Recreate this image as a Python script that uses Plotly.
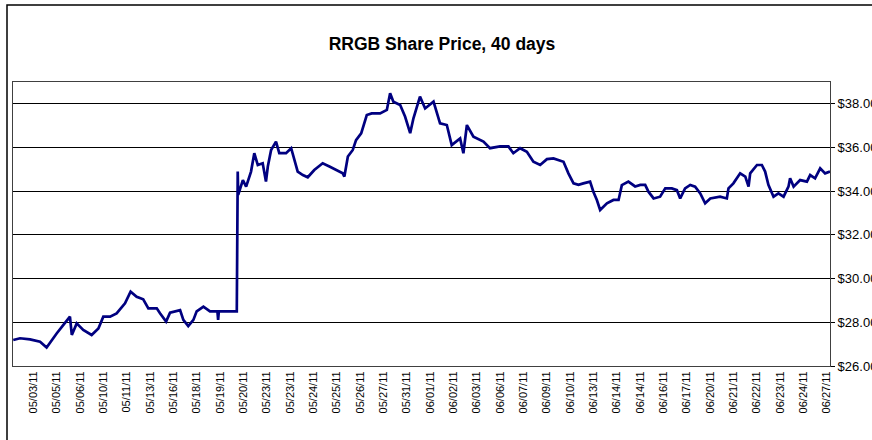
import plotly.graph_objects as go

# Category tick labels (trading dates)
tick_labels = ["05/03/11", "05/05/11", "05/06/11", "05/10/11", "05/11/11", "05/13/11",
               "05/16/11", "05/18/11", "05/19/11", "05/20/11", "05/23/11", "05/23/11",
               "05/24/11", "05/25/11", "05/26/11", "05/27/11", "05/31/11", "06/01/11",
               "06/02/11", "06/03/11", "06/06/11", "06/07/11", "06/09/11", "06/10/11",
               "06/13/11", "06/14/11", "06/14/11", "06/16/11", "06/17/11", "06/20/11",
               "06/21/11", "06/22/11", "06/23/11", "06/24/11", "06/27/11"]

# Position of each quote, in label intervals from the first label
day_pos = [-0.86, -0.57, -0.14, 0.29, 0.57, 0.79, 1.00, 1.29, 1.57, 1.65, 1.86, 2.14, 2.50,
           2.79, 3.00, 3.29, 3.57, 3.93, 4.17, 4.43, 4.71, 4.93, 5.29, 5.43, 5.69, 5.86,
           6.29, 6.43, 6.64, 6.86, 7.00, 7.29, 7.57, 7.89, 7.92, 7.95, 8.43, 8.72,
           8.76, 8.78, 8.98, 9.12, 9.33, 9.47, 9.62, 9.83, 9.97, 10.05, 10.19, 10.40,
           10.54, 10.83, 11.05, 11.19, 11.33, 11.55, 11.76, 12.04, 12.40, 12.69, 12.97,
           13.26, 13.33, 13.48, 13.69, 13.83, 14.05,
           14.29, 14.50, 14.86, 15.15, 15.29, 15.43, 15.72, 15.93, 16.15,
           16.29, 16.57, 16.79, 17.15, 17.43, 17.72, 17.93, 18.29, 18.43, 18.58, 18.86,
           19.29, 19.57, 20.00, 20.36, 20.57, 20.86, 21.15, 21.43, 21.72, 22.01, 22.29,
           22.72, 22.93, 23.15, 23.36, 23.57, 23.86, 24.00, 24.15, 24.29, 24.58, 24.86,
           25.08, 25.22, 25.50, 25.79,
           26.01, 26.22, 26.36, 26.58, 26.86, 27.08, 27.36, 27.58, 27.72, 27.93, 28.15,
           28.36, 28.58, 28.79, 29.01, 29.43, 29.72, 29.79, 30.00, 30.29, 30.51, 30.65,
           30.72, 31.01, 31.22, 31.36, 31.50, 31.72, 31.93, 32.15, 32.36, 32.43, 32.58,
           32.86, 33.15, 33.29, 33.50, 33.72, 33.93, 34.14]

price = [27.19, 27.27, 27.22, 27.11, 26.85, 27.19, 27.49, 27.88, 28.26, 27.42, 27.95, 27.65,
         27.42, 27.72, 28.26, 28.26, 28.41, 28.87, 29.40, 29.17, 29.05, 28.64, 28.64, 28.41,
         28.03, 28.44, 28.56, 28.11, 27.83, 28.11, 28.50, 28.72, 28.50, 28.50, 28.11, 28.50,
         28.50, 28.50,
         34.90, 33.83, 34.51, 34.21, 34.90, 35.74, 35.20, 35.28, 34.44, 35.13, 35.89, 36.27,
         35.74, 35.74, 35.97, 35.43, 34.90, 34.74, 34.64, 34.97, 35.28, 35.13, 34.97,
         34.82, 34.67, 35.59, 35.89, 36.34, 36.65,
         37.49, 37.56, 37.56, 37.72, 38.48, 38.10, 37.95, 37.42,
         36.66, 37.34, 38.33, 37.79, 38.10, 37.11, 37.03, 36.11, 36.42, 35.74, 37.03, 36.50,
         36.27, 35.97, 36.05, 36.05, 35.74, 35.97, 35.81, 35.35, 35.20, 35.47, 35.50, 35.35,
         34.82, 34.36, 34.29, 34.36, 34.44, 33.98, 33.60, 33.14, 33.45, 33.60, 33.60, 34.28,
         34.44, 34.22,
         34.29, 34.29, 33.98, 33.67, 33.75, 34.13, 34.13, 34.05, 33.67, 34.13, 34.29,
         34.21, 33.90, 33.45, 33.67, 33.75, 33.67, 34.13, 34.36, 34.82, 34.67, 34.21,
         34.82, 35.20, 35.20, 34.90, 34.29, 33.75, 33.90, 33.75, 34.21, 34.59, 34.21,
         34.51, 34.44, 34.74, 34.59, 35.05, 34.82, 34.90]

y_ticks = [26, 28, 30, 32, 34, 36, 38]

FONT = "Liberation Sans, Arial, sans-serif"

fig = go.Figure()
fig.add_trace(go.Scatter(x=day_pos, y=price, mode="lines",
                         line=dict(color="#000080", width=2.7),
                         hoverinfo="skip", showlegend=False))

L, R, T, B = 13, 42, 82, 74
W, H = 872, 440
pw, ph = W - L - R, H - T - B

fig.update_layout(
    width=W, height=H,
    margin=dict(l=L, r=R, t=T, b=B, pad=0),
    paper_bgcolor="white", plot_bgcolor="white",
    font=dict(family=FONT, size=11, color="black"),
    hovermode=False,
    title=dict(text="<b>RRGB Share Price, 40 days</b>",
               font=dict(family=FONT, size=17.5, color="black"),
               x=442 / W, xref="container", xanchor="center",
               y=1 - 44 / H, yref="container", yanchor="middle"),
    xaxis=dict(range=[-0.87, 34.14], tickmode="array",
               tickvals=list(range(len(tick_labels))), ticktext=tick_labels,
               tickangle=-90, showgrid=False, zeroline=False,
               showline=True, linecolor="#404040", linewidth=1, mirror=True,
               ticks="", automargin=False, fixedrange=True,
               tickfont=dict(family=FONT, size=11, color="black")),
    yaxis=dict(range=[26, 39], side="right", tickmode="array",
               tickvals=y_ticks, ticktext=["$%.2f" % v for v in y_ticks],
               showgrid=True, gridcolor="black", gridwidth=1, zeroline=False,
               showline=True, linecolor="#404040", linewidth=1, mirror=True,
               ticks="outside", ticklen=4, tickcolor="black", automargin=False,
               fixedrange=True,
               tickfont=dict(family=FONT, size=13, color="black")),
)

# Outer chart-area border (extends past the right/bottom edges of the view)
fig.add_shape(type="rect", xref="paper", yref="paper",
              x0=(7 - L) / pw, x1=(W + 20 - L) / pw,
              y0=-(B + 20) / ph, y1=(H - B - 5) / ph,
              line=dict(color="black", width=1.5), fillcolor="rgba(0,0,0,0)", layer="below")

fig.write_html("out.html", config={"displayModeBar": False, "staticPlot": True},
               post_script="document.body.style.margin='0';document.body.style.overflow='hidden';")
